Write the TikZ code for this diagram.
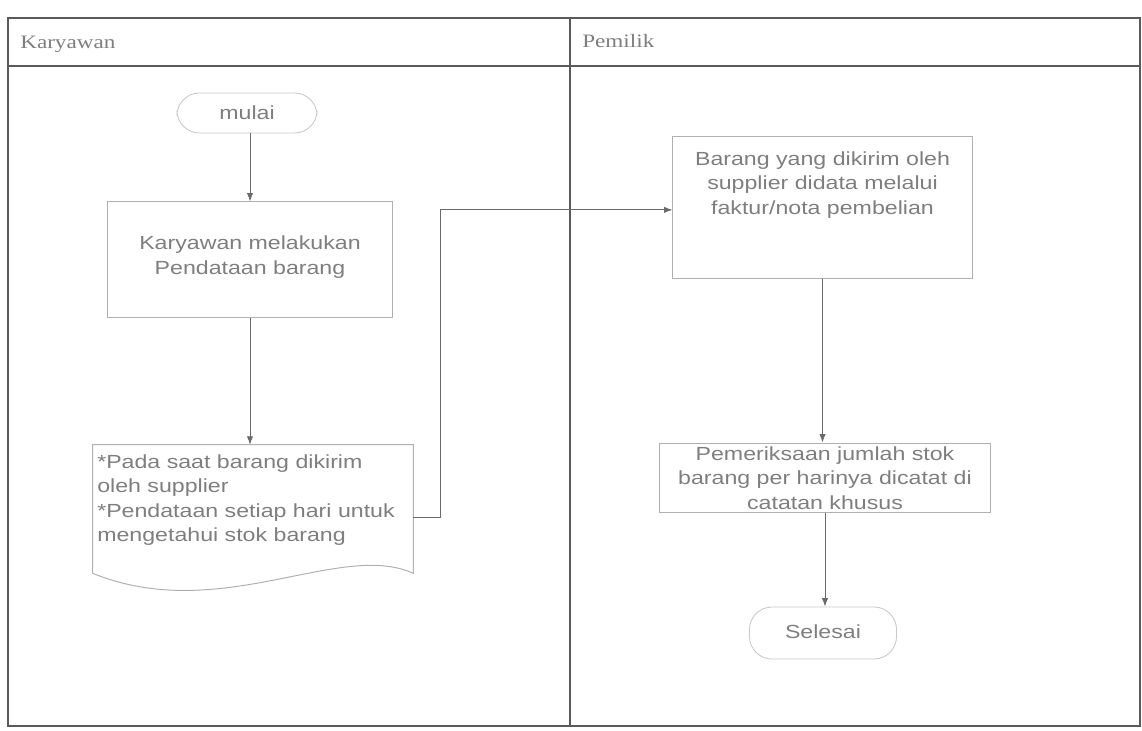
\documentclass[tikz,border=0pt]{standalone}
\usepackage{fontspec}
\setmainfont{Liberation Sans}[FakeStretch=1.22]
\newfontfamily\hdrfont{Liberation Serif}[FakeStretch=1.22]
\usetikzlibrary{arrows.meta}
\definecolor{txtgray}{HTML}{7E7E7E}
\definecolor{framegray}{HTML}{5A5A5A}
\definecolor{boxgray}{HTML}{B0B0B0}
\definecolor{arrgray}{HTML}{6A6A6A}
\tikzset{
  lane/.style={draw=framegray, line width=0.9pt},
  procbox/.style={draw=boxgray, line width=0.7pt, inner sep=0pt},
  termbox/.style={draw=boxgray!70, line width=0.6pt, rounded corners=16pt, inner sep=0pt},
  bodytext/.style={text=txtgray, font=\fontsize{13.5}{17.5}\selectfont, align=center, inner sep=0pt},
  hdrtext/.style={text=txtgray, font=\hdrfont\fontsize{13.5}{16}\selectfont, inner sep=0pt, anchor=west},
  flow/.style={draw=arrgray, line width=0.6pt, -{Latex[length=6pt,width=4.5pt]}},
}
\begin{document}
\begin{tikzpicture}[x=0.025cm, y=-0.025cm]
\useasboundingbox (0,0) rectangle (1142,730);
% swimlane frame
\draw[lane] (8,18) rectangle (1140,726);
\draw[lane] (8,66) -- (1140,66);
\draw[lane] (570,18) -- (570,726);
\node[hdrtext] (hk) at (20,44) {Karyawan};
\node[hdrtext] (hp) at (582,41) {Pemilik};
% Karyawan lane
\node[termbox, minimum width=3.5cm, minimum height=1cm] (mulai) at (247,113) {};
\node[bodytext] (mulait) at (247,113) {mulai};
\node[procbox, minimum width=7.1cm, minimum height=2.875cm] (box1) at (250,259.5) {};
\node[bodytext] (box1t) at (250,257) {Karyawan melakukan\\Pendataan barang};
\node[inner sep=0pt, minimum width=8cm, minimum height=3.2cm] (box2) at (253,509) {};
\draw[draw=boxgray, line width=0.7pt] (box2.south west) -- (box2.north west) -- (box2.north east) -- (box2.south east)
  .. controls (340,540) and (220,625) .. (box2.south west);
\node[bodytext, align=left, anchor=west] (box2t) at (97,500) {*Pada saat barang dikirim\\oleh supplier\\*Pendataan setiap hari untuk\\mengetahui stok barang};
% Pemilik lane
\node[procbox, minimum width=7.475cm, minimum height=3.525cm] (box3) at (822.5,207.5) {};
\node[bodytext] (box3t) at (822.5,185) {Barang yang dikirim oleh\\supplier didata melalui\\faktur/nota pembelian};
\node[procbox, minimum width=8.25cm, minimum height=1.725cm] (box4) at (825,477.5) {};
\node[bodytext] (box4t) at (825,478) {Pemeriksaan jumlah stok\\barang per harinya dicatat di\\catatan khusus};
\node[termbox, minimum width=3.675cm, minimum height=1.3cm] (selesai) at (823,633) {};
\node[bodytext] (selesait) at (823,632) {Selesai};
% connectors
\draw[flow] (mulai.south -| box1.north) -- (box1.north);
\draw[flow] (box1.south) -- (box1.south |- box2.north);
\draw[flow] ([yshift=-0.2cm]box2.east) -- ++(27,0) |- ([yshift=-0.06cm]box3.west);
\draw[flow] (box3.south) -- (box3.south |- box4.north);
\draw[flow] (box4.south) -- (box4.south |- selesai.north);
\end{tikzpicture}
\end{document}
